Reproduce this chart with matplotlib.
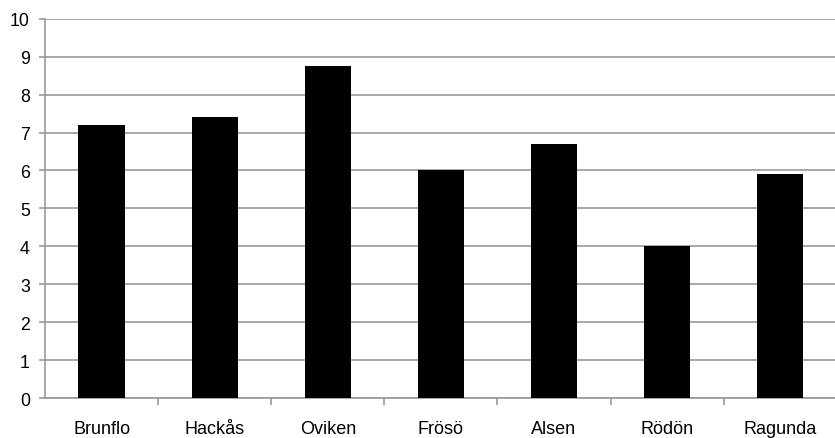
import numpy as np
import matplotlib
matplotlib.use('Agg')
import matplotlib.pyplot as plt
from matplotlib.ticker import FixedLocator

plt.rcParams.update({
    "font.family": ["Liberation Sans", "DejaVu Sans"],
    "font.size": 12,
})

# data
places = ['Brunflo', 'Hackås', 'Oviken', 'Frösö', 'Alsen', 'Rödön', 'Ragunda']
values = [7.2, 7.4, 8.75, 6.0, 6.7, 4.0, 5.9]
yticks = list(range(0, 11))

fig = plt.figure(figsize=(8.35, 4.39), dpi=100)
ax = fig.add_axes([0.054, 0.091, 0.948, 0.864])

x = np.arange(len(places))
ax.bar(x, values, width=0.41, color='black', zorder=3)

ax.set_xlim(-0.5, len(places) - 0.5)
ax.set_ylim(0, 10)

# grid at every integer
ax.set_yticks(yticks)
ax.yaxis.grid(True, color='#999999', linewidth=1.2, zorder=0)
ax.tick_params(axis='y', length=4, width=1.2, color='#999999', pad=7, labelsize=12.8)

# category labels centred, tick marks between categories
ax.set_xticks(x)
ax.set_xticklabels(places)
ax.tick_params(axis='x', which='major', length=0, pad=16, labelsize=13)
ax.xaxis.set_minor_locator(FixedLocator(np.arange(0.5, len(places) - 0.5, 1)))
ax.tick_params(axis='x', which='minor', length=5, width=1.2, color='#999999')

for s in ['top', 'right']:
    ax.spines[s].set_visible(False)
for s in ['left', 'bottom']:
    ax.spines[s].set_color('#999999')
    ax.spines[s].set_linewidth(1.2)

fig.savefig('out.png', dpi=100)
